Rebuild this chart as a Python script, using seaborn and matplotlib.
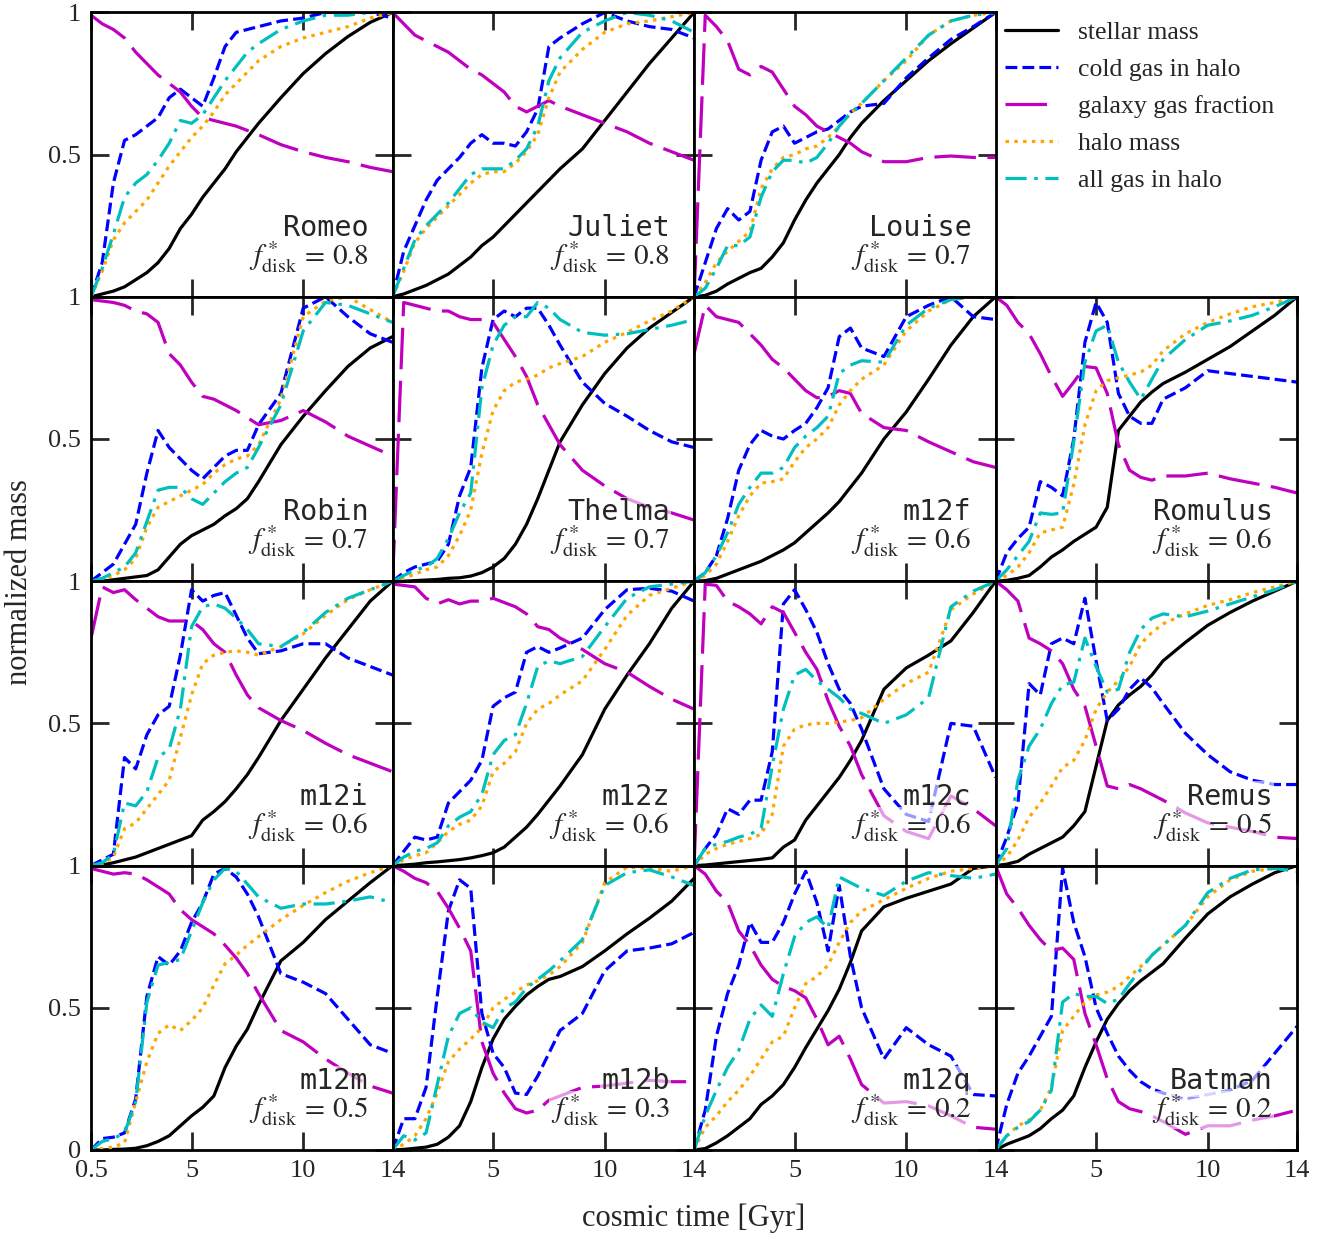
import matplotlib
matplotlib.use('Agg')
import matplotlib.pyplot as plt
import seaborn as sns

# Set style
sns.set_style("ticks")
plt.rcParams['font.family'] = ['Liberation Serif', 'DejaVu Serif']
plt.rcParams['mathtext.fontset'] = 'stix'

# cosmic time grid [Gyr]
t = [0.5, 1, 1.5, 2, 2.5, 3, 3.5, 4, 4.5, 5, 5.5, 6, 6.5, 7, 7.5, 8, 9, 10, 11, 12, 13, 14]

names = ['Romeo', 'Juliet', 'Louise',
         'Robin', 'Thelma', 'm12f', 'Romulus',
         'm12i', 'm12z', 'm12c', 'Remus',
         'm12m', 'm12b', 'm12q', 'Batman']
fdisk = ['0.8', '0.8', '0.7', '0.7', '0.7', '0.6', '0.6', '0.6', '0.6', '0.6',
         '0.5', '0.5', '0.3', '0.2', '0.2']

stellar = {
    'Romeo':   [0, 0.01, 0.02, 0.035, 0.06, 0.085, 0.12, 0.17, 0.24, 0.29, 0.35, 0.40, 0.45, 0.51, 0.56, 0.61, 0.70, 0.785, 0.855, 0.915, 0.965, 1.0],
    'Juliet':  [0, 0.01, 0.025, 0.04, 0.06, 0.08, 0.11, 0.14, 0.18, 0.21, 0.25, 0.29, 0.33, 0.37, 0.41, 0.45, 0.52, 0.62, 0.72, 0.82, 0.91, 1.0],
    'Louise':  [0, 0.005, 0.02, 0.045, 0.065, 0.085, 0.10, 0.14, 0.19, 0.27, 0.34, 0.40, 0.45, 0.50, 0.56, 0.61, 0.69, 0.76, 0.83, 0.89, 0.945, 1.0],
    'Robin':   [0, 0, 0.005, 0.01, 0.015, 0.02, 0.04, 0.085, 0.13, 0.16, 0.18, 0.20, 0.23, 0.255, 0.29, 0.35, 0.48, 0.58, 0.67, 0.755, 0.82, 0.86],
    'Thelma':  [0, 0, 0.002, 0.004, 0.006, 0.01, 0.012, 0.018, 0.03, 0.05, 0.08, 0.13, 0.20, 0.29, 0.39, 0.49, 0.62, 0.73, 0.82, 0.89, 0.945, 1.0],
    'm12f':    [0, 0.002, 0.01, 0.025, 0.04, 0.055, 0.07, 0.09, 0.11, 0.135, 0.17, 0.205, 0.24, 0.28, 0.33, 0.38, 0.50, 0.595, 0.71, 0.83, 0.93, 1.0],
    'Romulus': [0, 0.003, 0.01, 0.02, 0.05, 0.085, 0.11, 0.14, 0.165, 0.19, 0.26, 0.53, 0.58, 0.63, 0.665, 0.695, 0.735, 0.78, 0.825, 0.88, 0.935, 1.0],
    'm12i':    [0, 0.002, 0.01, 0.02, 0.03, 0.045, 0.06, 0.075, 0.09, 0.105, 0.16, 0.19, 0.225, 0.27, 0.32, 0.38, 0.51, 0.62, 0.73, 0.83, 0.93, 1.0],
    'm12z':    [0, 0.002, 0.005, 0.01, 0.013, 0.017, 0.021, 0.027, 0.035, 0.045, 0.065, 0.10, 0.135, 0.18, 0.23, 0.28, 0.39, 0.55, 0.67, 0.78, 0.905, 1.0],
    'm12c':    [0, 0.002, 0.006, 0.01, 0.014, 0.018, 0.022, 0.027, 0.065, 0.09, 0.16, 0.21, 0.26, 0.31, 0.37, 0.44, 0.62, 0.695, 0.74, 0.79, 0.89, 1.0],
    'Remus':   [0, 0.005, 0.015, 0.04, 0.06, 0.08, 0.10, 0.14, 0.19, 0.35, 0.51, 0.565, 0.60, 0.63, 0.67, 0.72, 0.785, 0.845, 0.89, 0.93, 0.965, 1.0],
    'm12m':    [0, 0, 0.002, 0.003, 0.006, 0.015, 0.03, 0.05, 0.085, 0.12, 0.15, 0.19, 0.29, 0.365, 0.425, 0.51, 0.665, 0.73, 0.81, 0.875, 0.94, 1.0],
    'm12b':    [0, 0.002, 0.006, 0.01, 0.02, 0.045, 0.085, 0.17, 0.29, 0.39, 0.46, 0.505, 0.545, 0.575, 0.60, 0.61, 0.645, 0.70, 0.76, 0.815, 0.875, 0.955],
    'm12q':    [0, 0.005, 0.025, 0.05, 0.08, 0.11, 0.16, 0.19, 0.23, 0.29, 0.36, 0.425, 0.49, 0.565, 0.66, 0.77, 0.855, 0.885, 0.91, 0.935, 0.99, 1.0],
    'Batman':  [0, 0.02, 0.035, 0.05, 0.075, 0.11, 0.14, 0.19, 0.29, 0.38, 0.46, 0.515, 0.56, 0.595, 0.625, 0.655, 0.745, 0.83, 0.89, 0.935, 0.975, 1.0],
}

cold_gas = {
    'Romeo':   [0, 0.12, 0.40, 0.55, 0.57, 0.60, 0.63, 0.70, 0.73, 0.70, 0.67, 0.77, 0.88, 0.93, 0.94, 0.95, 0.97, 0.98, 1.0, 1.0, 1.0, 0.98],
    'Juliet':  [0, 0.16, 0.25, 0.34, 0.41, 0.45, 0.49, 0.54, 0.57, 0.54, 0.54, 0.53, 0.58, 0.66, 0.88, 0.91, 0.96, 1.0, 0.97, 0.95, 0.94, 0.91],
    'Louise':  [0, 0.12, 0.24, 0.31, 0.27, 0.30, 0.48, 0.58, 0.60, 0.54, 0.56, 0.58, 0.59, 0.62, 0.65, 0.67, 0.68, 0.77, 0.84, 0.905, 0.95, 1.0],
    'Robin':   [0, 0.03, 0.06, 0.13, 0.20, 0.38, 0.53, 0.47, 0.43, 0.39, 0.36, 0.40, 0.44, 0.46, 0.46, 0.55, 0.66, 0.96, 1.0, 0.93, 0.87, 0.84],
    'Thelma':  [0, 0.03, 0.05, 0.06, 0.07, 0.13, 0.30, 0.40, 0.75, 0.92, 0.95, 0.93, 0.96, 0.96, 0.90, 0.83, 0.70, 0.625, 0.58, 0.53, 0.49, 0.47],
    'm12f':    [0, 0.03, 0.09, 0.22, 0.39, 0.48, 0.53, 0.51, 0.50, 0.53, 0.555, 0.61, 0.68, 0.86, 0.89, 0.82, 0.79, 0.93, 0.97, 1.0, 0.93, 0.92],
    'Romulus': [0, 0.10, 0.15, 0.19, 0.35, 0.33, 0.30, 0.50, 0.84, 0.98, 0.91, 0.66, 0.58, 0.555, 0.555, 0.64, 0.68, 0.74, 0.73, 0.72, 0.71, 0.70],
    'm12i':    [0, 0.02, 0.04, 0.38, 0.34, 0.46, 0.53, 0.56, 0.74, 0.97, 0.93, 0.95, 0.96, 0.88, 0.80, 0.745, 0.755, 0.78, 0.78, 0.73, 0.70, 0.67],
    'm12z':    [0, 0.05, 0.10, 0.09, 0.10, 0.22, 0.26, 0.30, 0.37, 0.56, 0.59, 0.61, 0.75, 0.77, 0.75, 0.765, 0.80, 0.90, 0.97, 0.975, 0.965, 0.93],
    'm12c':    [0, 0.06, 0.11, 0.20, 0.18, 0.23, 0.23, 0.40, 0.92, 0.97, 0.90, 0.82, 0.71, 0.62, 0.57, 0.48, 0.27, 0.18, 0.155, 0.50, 0.49, 0.31],
    'Remus':   [0, 0.10, 0.22, 0.64, 0.60, 0.78, 0.80, 0.78, 0.94, 0.72, 0.51, 0.55, 0.62, 0.66, 0.625, 0.57, 0.465, 0.39, 0.33, 0.30, 0.285, 0.285],
    'm12m':    [0, 0.04, 0.045, 0.06, 0.18, 0.54, 0.68, 0.65, 0.70, 0.80, 0.87, 0.97, 0.99, 0.96, 0.90, 0.82, 0.62, 0.59, 0.55, 0.46, 0.37, 0.34],
    'm12b':    [0, 0.11, 0.11, 0.22, 0.54, 0.84, 0.95, 0.92, 0.48, 0.34, 0.29, 0.20, 0.195, 0.26, 0.34, 0.42, 0.48, 0.63, 0.70, 0.71, 0.725, 0.765],
    'm12q':    [0, 0.14, 0.40, 0.55, 0.65, 0.80, 0.73, 0.73, 0.80, 0.90, 0.98, 0.87, 0.70, 0.93, 0.68, 0.50, 0.32, 0.43, 0.37, 0.33, 0.195, 0.19],
    'Batman':  [0, 0.16, 0.27, 0.33, 0.40, 0.47, 0.99, 0.80, 0.68, 0.50, 0.41, 0.33, 0.28, 0.24, 0.215, 0.20, 0.18, 0.195, 0.21, 0.245, 0.34, 0.435],
}

gas_frac = {
    'Romeo':   [0.99, 0.96, 0.94, 0.91, 0.86, 0.82, 0.78, 0.75, 0.72, 0.67, 0.63, 0.62, 0.61, 0.60, 0.585, 0.57, 0.535, 0.51, 0.49, 0.475, 0.455, 0.44],
    'Juliet':  [1.0, 0.96, 0.92, 0.90, 0.88, 0.86, 0.83, 0.80, 0.78, 0.75, 0.72, 0.67, 0.65, 0.67, 0.69, 0.67, 0.64, 0.61, 0.58, 0.54, 0.51, 0.48],
    'Louise':  [0, 0.99, 0.95, 0.90, 0.80, 0.78, 0.81, 0.79, 0.73, 0.67, 0.64, 0.60, 0.58, 0.56, 0.54, 0.51, 0.475, 0.475, 0.49, 0.495, 0.49, 0.49],
    'Robin':   [0.99, 0.985, 0.98, 0.97, 0.95, 0.94, 0.91, 0.80, 0.76, 0.70, 0.65, 0.64, 0.62, 0.60, 0.575, 0.55, 0.565, 0.60, 0.56, 0.51, 0.475, 0.44],
    'Thelma':  [0, 0.98, 0.97, 0.96, 0.95, 0.95, 0.93, 0.92, 0.92, 0.91, 0.85, 0.79, 0.72, 0.62, 0.55, 0.48, 0.39, 0.335, 0.29, 0.26, 0.24, 0.215],
    'm12f':    [0.80, 0.97, 0.93, 0.92, 0.91, 0.87, 0.83, 0.78, 0.75, 0.71, 0.67, 0.645, 0.65, 0.67, 0.66, 0.59, 0.54, 0.53, 0.49, 0.455, 0.42, 0.40],
    'Romulus': [1.0, 0.97, 0.91, 0.87, 0.80, 0.72, 0.65, 0.70, 0.755, 0.75, 0.66, 0.48, 0.39, 0.365, 0.355, 0.37, 0.37, 0.38, 0.36, 0.345, 0.33, 0.31],
    'm12i':    [0.80, 0.98, 0.96, 0.97, 0.935, 0.905, 0.875, 0.86, 0.86, 0.86, 0.83, 0.78, 0.75, 0.67, 0.60, 0.555, 0.51, 0.475, 0.43, 0.39, 0.36, 0.33],
    'm12z':    [0.99, 0.985, 0.98, 0.94, 0.92, 0.935, 0.92, 0.93, 0.93, 0.94, 0.925, 0.91, 0.885, 0.84, 0.83, 0.80, 0.76, 0.71, 0.68, 0.63, 0.585, 0.55],
    'm12c':    [0, 0.99, 0.985, 0.93, 0.91, 0.885, 0.85, 0.91, 0.89, 0.82, 0.75, 0.69, 0.58, 0.49, 0.42, 0.32, 0.175, 0.12, 0.095, 0.245, 0.20, 0.14],
    'Remus':   [1.0, 0.97, 0.93, 0.80, 0.78, 0.755, 0.71, 0.62, 0.56, 0.42, 0.28, 0.27, 0.285, 0.27, 0.25, 0.23, 0.185, 0.15, 0.135, 0.12, 0.10, 0.095],
    'm12m':    [0.99, 0.98, 0.97, 0.975, 0.97, 0.95, 0.925, 0.90, 0.845, 0.81, 0.785, 0.76, 0.72, 0.675, 0.62, 0.55, 0.42, 0.38, 0.32, 0.27, 0.225, 0.20],
    'm12b':    [1.0, 0.98, 0.955, 0.94, 0.91, 0.85, 0.78, 0.70, 0.38, 0.27, 0.20, 0.145, 0.13, 0.14, 0.175, 0.19, 0.22, 0.225, 0.235, 0.245, 0.24, 0.24],
    'm12q':    [1.0, 0.97, 0.91, 0.87, 0.77, 0.72, 0.65, 0.60, 0.575, 0.56, 0.535, 0.46, 0.37, 0.40, 0.32, 0.23, 0.165, 0.17, 0.155, 0.12, 0.08, 0.073],
    'Batman':  [1.0, 0.90, 0.85, 0.79, 0.74, 0.70, 0.71, 0.67, 0.48, 0.37, 0.25, 0.17, 0.145, 0.135, 0.12, 0.10, 0.055, 0.085, 0.085, 0.105, 0.12, 0.14],
}

halo = {
    'Romeo':   [0, 0.09, 0.20, 0.26, 0.30, 0.34, 0.40, 0.46, 0.51, 0.56, 0.60, 0.65, 0.71, 0.75, 0.79, 0.83, 0.88, 0.91, 0.93, 0.95, 0.98, 1.0],
    'Juliet':  [0, 0.09, 0.19, 0.24, 0.28, 0.32, 0.36, 0.40, 0.43, 0.44, 0.44, 0.47, 0.51, 0.57, 0.70, 0.79, 0.87, 0.93, 0.96, 0.97, 0.985, 1.0],
    'Louise':  [0, 0.05, 0.12, 0.16, 0.195, 0.23, 0.38, 0.45, 0.49, 0.50, 0.52, 0.53, 0.56, 0.60, 0.645, 0.68, 0.76, 0.83, 0.92, 0.97, 0.99, 1.0],
    'Robin':   [0, 0.01, 0.02, 0.04, 0.08, 0.19, 0.26, 0.28, 0.30, 0.32, 0.34, 0.38, 0.41, 0.43, 0.44, 0.48, 0.64, 0.93, 0.985, 1.0, 0.955, 0.91],
    'Thelma':  [0, 0.01, 0.025, 0.04, 0.05, 0.09, 0.16, 0.25, 0.45, 0.60, 0.67, 0.70, 0.71, 0.725, 0.75, 0.765, 0.79, 0.84, 0.875, 0.915, 0.95, 1.0],
    'm12f':    [0, 0.02, 0.06, 0.14, 0.23, 0.30, 0.345, 0.35, 0.36, 0.42, 0.47, 0.50, 0.54, 0.62, 0.67, 0.71, 0.76, 0.88, 0.95, 0.99, 1.0, 1.0],
    'Romulus': [0, 0.02, 0.05, 0.10, 0.17, 0.18, 0.19, 0.34, 0.55, 0.67, 0.705, 0.715, 0.725, 0.735, 0.76, 0.81, 0.87, 0.91, 0.94, 0.965, 0.98, 1.0],
    'm12i':    [0, 0.005, 0.03, 0.13, 0.15, 0.20, 0.25, 0.30, 0.45, 0.60, 0.71, 0.74, 0.75, 0.755, 0.75, 0.74, 0.77, 0.815, 0.88, 0.935, 0.97, 1.0],
    'm12z':    [0, 0.02, 0.035, 0.045, 0.08, 0.12, 0.145, 0.16, 0.21, 0.33, 0.36, 0.40, 0.50, 0.55, 0.57, 0.60, 0.65, 0.76, 0.88, 0.95, 0.975, 1.0],
    'm12c':    [0, 0.04, 0.06, 0.075, 0.085, 0.095, 0.11, 0.18, 0.42, 0.48, 0.495, 0.50, 0.50, 0.505, 0.51, 0.52, 0.585, 0.64, 0.68, 0.90, 0.955, 1.0],
    'Remus':   [0, 0.03, 0.09, 0.17, 0.22, 0.28, 0.345, 0.37, 0.44, 0.55, 0.61, 0.65, 0.70, 0.78, 0.82, 0.85, 0.885, 0.915, 0.935, 0.96, 0.98, 1.0],
    'm12m':    [0, 0.005, 0.01, 0.025, 0.17, 0.31, 0.41, 0.44, 0.42, 0.455, 0.50, 0.58, 0.655, 0.685, 0.72, 0.75, 0.81, 0.86, 0.905, 0.945, 0.975, 1.0],
    'm12b':    [0, 0.02, 0.05, 0.11, 0.20, 0.31, 0.355, 0.39, 0.43, 0.50, 0.53, 0.555, 0.58, 0.595, 0.615, 0.645, 0.73, 0.94, 0.995, 0.99, 0.98, 1.0],
    'm12q':    [0, 0.08, 0.12, 0.17, 0.21, 0.26, 0.32, 0.38, 0.40, 0.50, 0.585, 0.61, 0.65, 0.73, 0.80, 0.84, 0.88, 0.92, 0.955, 0.98, 0.99, 1.0],
    'Batman':  [0, 0.05, 0.085, 0.105, 0.14, 0.22, 0.42, 0.47, 0.52, 0.545, 0.555, 0.575, 0.61, 0.645, 0.685, 0.72, 0.79, 0.89, 0.95, 0.98, 0.99, 1.0],
}

all_gas = {
    'Romeo':   [0, 0.10, 0.22, 0.35, 0.40, 0.43, 0.48, 0.54, 0.62, 0.61, 0.64, 0.70, 0.76, 0.81, 0.86, 0.89, 0.94, 0.97, 0.99, 0.99, 1.0, 1.0],
    'Juliet':  [0, 0.10, 0.20, 0.25, 0.29, 0.33, 0.38, 0.43, 0.45, 0.45, 0.45, 0.48, 0.52, 0.60, 0.76, 0.84, 0.93, 0.97, 1.0, 0.99, 0.97, 0.93],
    'Louise':  [0, 0.03, 0.10, 0.18, 0.18, 0.21, 0.35, 0.44, 0.48, 0.48, 0.47, 0.49, 0.54, 0.60, 0.645, 0.68, 0.76, 0.84, 0.92, 0.97, 0.99, 1.0],
    'Robin':   [0, 0.01, 0.03, 0.05, 0.10, 0.21, 0.32, 0.33, 0.33, 0.29, 0.27, 0.31, 0.35, 0.38, 0.40, 0.47, 0.62, 0.88, 0.98, 0.97, 0.94, 0.91],
    'Thelma':  [0, 0.02, 0.04, 0.05, 0.08, 0.15, 0.24, 0.31, 0.68, 0.83, 0.90, 0.93, 0.93, 0.98, 0.96, 0.92, 0.875, 0.865, 0.87, 0.885, 0.90, 0.92],
    'm12f':    [0, 0.03, 0.09, 0.17, 0.27, 0.33, 0.38, 0.38, 0.40, 0.47, 0.51, 0.54, 0.58, 0.73, 0.76, 0.775, 0.77, 0.90, 0.96, 0.99, 1.0, 1.0],
    'Romulus': [0, 0.04, 0.09, 0.14, 0.24, 0.235, 0.24, 0.49, 0.77, 0.88, 0.90, 0.77, 0.70, 0.64, 0.71, 0.78, 0.85, 0.90, 0.915, 0.935, 0.965, 1.0],
    'm12i':    [0, 0.01, 0.04, 0.22, 0.21, 0.26, 0.38, 0.41, 0.55, 0.84, 0.91, 0.92, 0.905, 0.87, 0.83, 0.78, 0.77, 0.82, 0.89, 0.94, 0.97, 1.0],
    'm12z':    [0, 0.03, 0.05, 0.06, 0.08, 0.14, 0.17, 0.19, 0.25, 0.39, 0.44, 0.46, 0.57, 0.70, 0.72, 0.71, 0.735, 0.84, 0.94, 0.98, 0.99, 1.0],
    'm12c':    [0, 0.06, 0.075, 0.085, 0.10, 0.11, 0.13, 0.35, 0.55, 0.67, 0.69, 0.65, 0.62, 0.59, 0.55, 0.535, 0.50, 0.53, 0.59, 0.91, 0.965, 1.0],
    'Remus':   [0, 0.06, 0.30, 0.42, 0.48, 0.57, 0.635, 0.645, 0.80, 0.70, 0.61, 0.62, 0.75, 0.83, 0.87, 0.885, 0.875, 0.895, 0.92, 0.945, 0.97, 1.0],
    'm12m':    [0, 0.03, 0.04, 0.06, 0.17, 0.52, 0.65, 0.66, 0.67, 0.77, 0.87, 0.95, 0.99, 0.98, 0.935, 0.89, 0.85, 0.865, 0.865, 0.875, 0.89, 0.87],
    'm12b':    [0, 0.05, 0.035, 0.06, 0.23, 0.40, 0.48, 0.50, 0.45, 0.43, 0.50, 0.52, 0.57, 0.60, 0.63, 0.665, 0.74, 0.93, 0.975, 0.985, 0.96, 0.93],
    'm12q':    [0, 0.12, 0.21, 0.29, 0.35, 0.46, 0.51, 0.47, 0.62, 0.75, 0.80, 0.82, 0.78, 0.96, 0.94, 0.92, 0.895, 0.945, 0.975, 0.965, 0.955, 0.97],
    'Batman':  [0, 0.05, 0.08, 0.10, 0.14, 0.21, 0.52, 0.55, 0.54, 0.54, 0.515, 0.53, 0.585, 0.635, 0.685, 0.72, 0.79, 0.905, 0.955, 0.985, 0.99, 0.98],
}

# (legend label, data, colour, linestyle)
curves = [
    ('stellar mass', stellar, 'black', '-'),
    ('cold gas in halo', cold_gas, 'blue', (0, (3.7, 1.6))),
    ('galaxy gas fraction', gas_frac, (0.75, 0, 0.75), (0, (13, 3.6))),
    ('halo mass', halo, 'orange', (0, (1.1, 1.65))),
    ('all gas in halo', all_gas, (0, 0.75, 0.75), (0, (6.6, 2.4, 1.1, 2.4))),
]

fig, axes = plt.subplots(4, 4, figsize=(13.29, 12.40), dpi=100)
fig.subplots_adjust(left=0.0685, right=0.976, bottom=0.0726, top=0.990,
                    wspace=0, hspace=0)
axes[0, 3].axis('off')

slots = [0, 1, 2, 4, 5, 6, 7, 8, 9, 10, 11, 12, 13, 14, 15]
box = dict(facecolor='white', alpha=0.6, edgecolor='none', pad=1)

for name, fd, slot in zip(names, fdisk, slots):
    row, col = divmod(slot, 4)
    ax = axes[row, col]
    for label, data, color, ls in curves:
        sns.lineplot(x=t, y=data[name], ax=ax, color=color, lw=2.3,
                     linestyle=ls, label=label, legend=False)
    ax.set_xlim(0.5, 14)
    ax.set_ylim(0, 1)
    ax.set_xticks([0.5, 5, 10, 14])
    ax.set_yticks([0, 0.5, 1])
    ax.tick_params(direction='in', length=13, width=2, top=True, right=True,
                   labelsize=19, pad=7)
    if col == 0:
        ax.set_yticklabels(['0' if row == 3 else '', '0.5', '1'])
    else:
        ax.set_yticklabels([])
    if row == 3:
        ax.set_xticklabels(['0.5' if col == 0 else '', '5', '10', '14'])
    else:
        ax.set_xticklabels([])
    ax.set_xlabel('')
    ax.set_ylabel('')
    for sp in ax.spines.values():
        sp.set_linewidth(2)
        sp.set_color('black')
    ax.text(0.92, 0.214, name, transform=ax.transAxes, ha='right', va='baseline',
            fontsize=20.5, family='DejaVu Sans Mono', bbox=box)
    ax.text(0.92, 0.112, r'$f^*_{\rm disk}\,=\,%s$' % fd, transform=ax.transAxes,
            ha='right', va='baseline', fontsize=21, bbox=box)

handles = axes[0, 0].get_lines()[:5]
fig.legend(handles, [c[0] for c in curves], loc='upper left',
           bbox_to_anchor=(1005 / 1329, 1 - 21 / 1240), frameon=False,
           fontsize=18.5, handlelength=2.05, handletextpad=0.8, labelspacing=0.55,
           borderaxespad=0, borderpad=0)

fig.text(694 / 1329, 1 - 1218 / 1240, 'cosmic time [Gyr]', ha='center',
         va='center', fontsize=22)
fig.text(20 / 1329, 1 - 582 / 1240, 'normalized mass', ha='center',
         va='center', rotation=90, fontsize=22)

fig.savefig('out.png', dpi=100)
